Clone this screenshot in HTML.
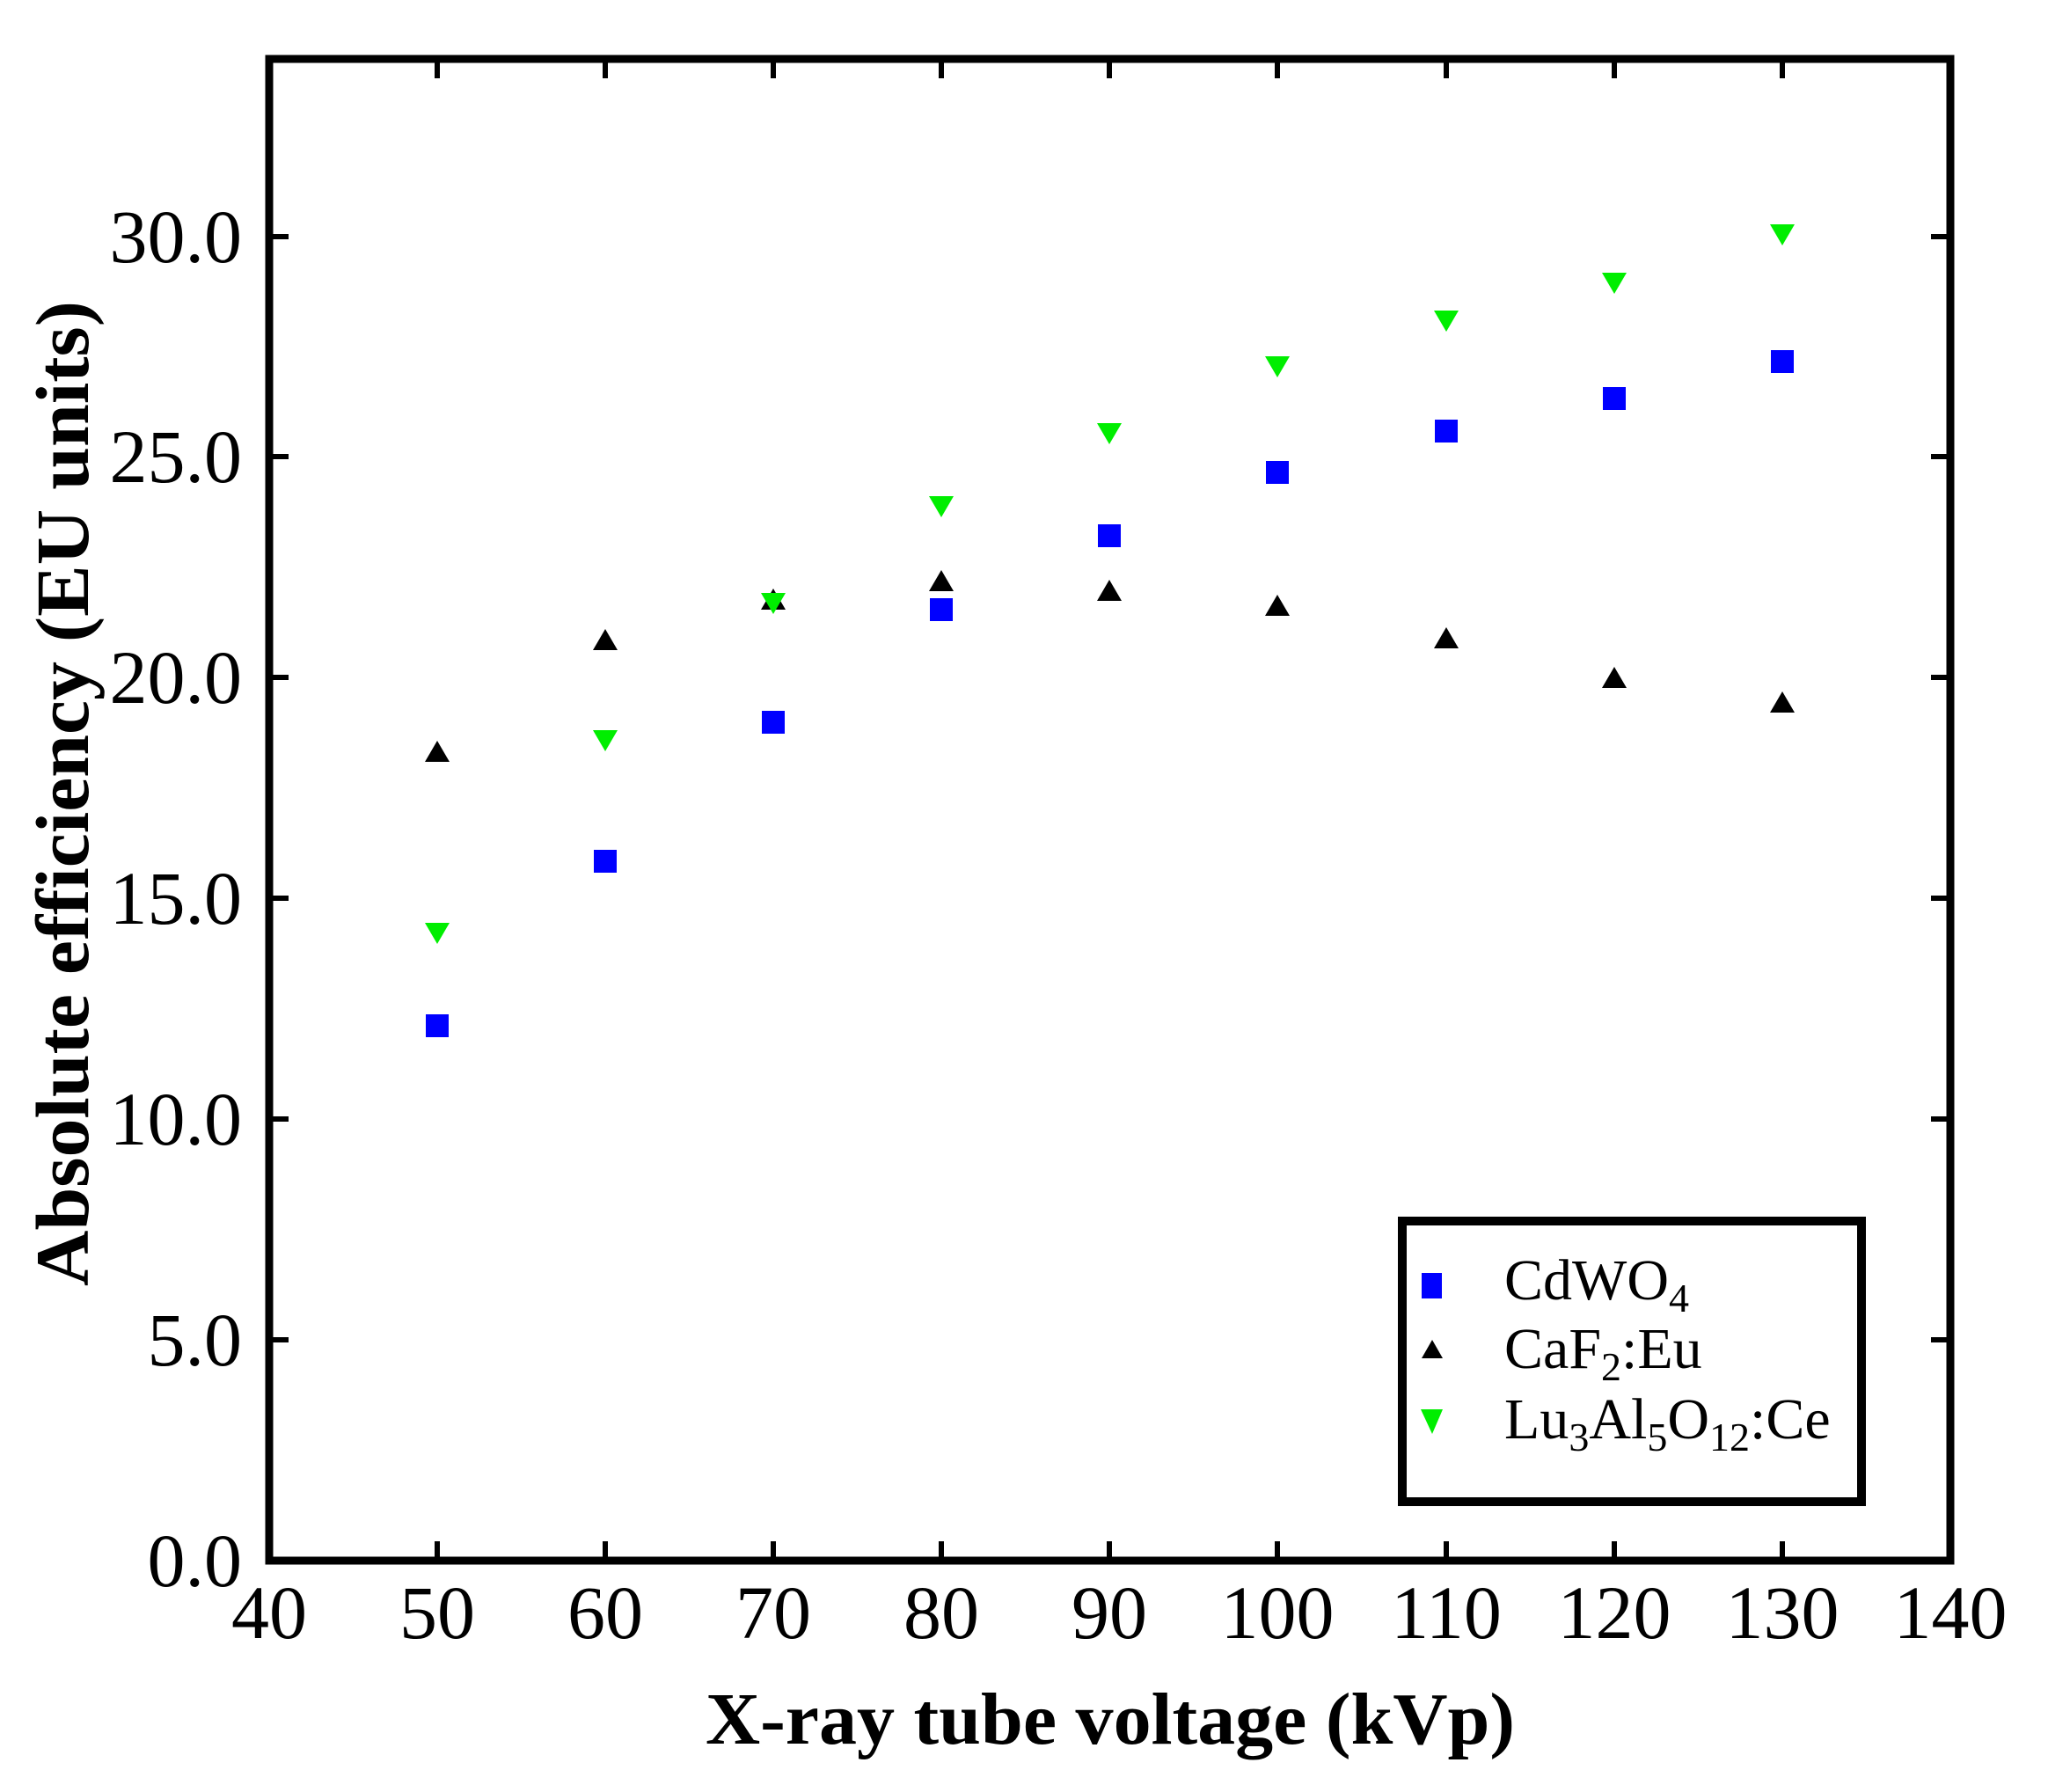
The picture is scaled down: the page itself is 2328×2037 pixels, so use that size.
<!DOCTYPE html>
<html><head><meta charset="utf-8"><style>html,body{margin:0;padding:0;background:#fff}</style></head>
<body>
<svg xmlns="http://www.w3.org/2000/svg" width="2328" height="2032" viewBox="0 0 2328 2032" font-family="Liberation Serif, serif">
<rect width="2328" height="2032" fill="#fff"/>
<g stroke="#000" stroke-width="6">
<!-- x ticks bottom & top -->
<path d="M497 1774v-22M688 1774v-22M879 1774v-22M1070 1774v-22M1261 1774v-22M1452 1774v-22M1644 1774v-22M1835 1774v-22M2026 1774v-22
M497 67v22M688 67v22M879 67v22M1070 67v22M1261 67v22M1452 67v22M1644 67v22M1835 67v22M2026 67v22
M306 1523h22M306 1272h22M306 1021h22M306 770h22M306 519h22M306 269h22
M2217 1523h-22M2217 1272h-22M2217 1021h-22M2217 770h-22M2217 519h-22M2217 269h-22"/>
</g>
<rect x="306" y="67" width="1911" height="1707" fill="none" stroke="#000" stroke-width="9"/>
<g font-size="86" text-anchor="end" fill="#000">
<text x="275" y="1803">0.0</text><text x="275" y="1552">5.0</text><text x="275" y="1301">10.0</text><text x="275" y="1050">15.0</text><text x="275" y="799">20.0</text><text x="275" y="548">25.0</text><text x="275" y="298">30.0</text>
</g>
<g font-size="86" text-anchor="middle" fill="#000">
<text x="306" y="1862">40</text><text x="497" y="1862">50</text><text x="688" y="1862">60</text><text x="879" y="1862">70</text><text x="1070" y="1862">80</text><text x="1261" y="1862">90</text><text x="1452" y="1862">100</text><text x="1644" y="1862">110</text><text x="1835" y="1862">120</text><text x="2026" y="1862">130</text><text x="2217" y="1862">140</text>
</g>
<text x="1262" y="1982" font-size="84" font-weight="bold" text-anchor="middle" textLength="920" lengthAdjust="spacingAndGlyphs">X-ray tube voltage (kVp)</text>
<text transform="translate(100,902) rotate(-90)" font-size="86" font-weight="bold" text-anchor="middle" textLength="1120" lengthAdjust="spacingAndGlyphs">Absolute efficiency (EU units)</text>
<!-- CaF2 triangles -->
<g fill="#000">
<path d="M497 842l14 24h-28zM688 715l14 24h-28zM879 669l14 24h-28zM1070 648l14 24h-28zM1261 659l14 24h-28zM1452 676l14 24h-28zM1644 713l14 24h-28zM1835 758l14 24h-28zM2026 786l14 24h-28z"/>
</g>
<!-- LuAG down triangles -->
<g fill="#00ee00">
<path d="M483 1049h28l-14 24zM674 830h28l-14 24zM865 674h28l-14 24zM1056 564h28l-14 24zM1247 481h28l-14 24zM1438 405h28l-14 24zM1630 353h28l-14 24zM1821 310h28l-14 24zM2012 255h28l-14 24z"/>
</g>
<!-- CdWO4 squares -->
<g fill="#0000ff">
<rect x="484" y="1153" width="26" height="26"/><rect x="675" y="966" width="26" height="26"/><rect x="866" y="808" width="26" height="26"/><rect x="1057" y="680" width="26" height="26"/><rect x="1248" y="596" width="26" height="26"/><rect x="1439" y="524" width="26" height="26"/><rect x="1631" y="477" width="26" height="26"/><rect x="1822" y="440" width="26" height="26"/><rect x="2013" y="398" width="26" height="26"/>
</g>
<!-- legend -->
<rect x="1594" y="1388" width="522" height="319" fill="#fff" stroke="#000" stroke-width="10"/>
<rect x="1616" y="1447" width="23" height="29" fill="#0000ff"/>
<path d="M1628 1523l12 21h-24z" fill="#000"/>
<path d="M1615 1602h25l-12 28z" fill="#00ee00"/>
<g font-size="66" fill="#000">
<text x="1710" y="1477">CdWO<tspan font-size="46" dy="14">4</tspan></text>
<text x="1710" y="1555">CaF<tspan font-size="46" dy="14">2</tspan><tspan dy="-14">:Eu</tspan></text>
<text x="1710" y="1635">Lu<tspan font-size="46" dy="14">3</tspan><tspan dy="-14">Al</tspan><tspan font-size="46" dy="14">5</tspan><tspan dy="-14">O</tspan><tspan font-size="46" dy="14">12</tspan><tspan dy="-14">:Ce</tspan></text>
</g>
</svg>
</body></html>
